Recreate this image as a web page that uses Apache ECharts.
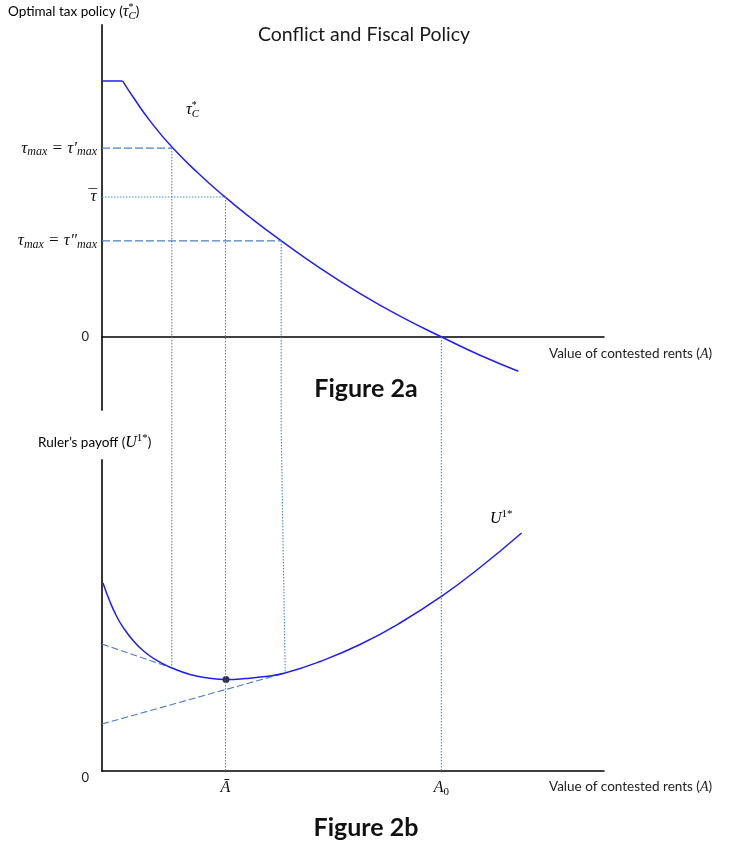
<!DOCTYPE html>
<html>
<head>
<meta charset="utf-8">
<script src="https://cdn.jsdelivr.net/npm/echarts@6/dist/echarts.min.js"></script>
<style>
  html, body { margin: 0; padding: 0; background: #fff; }
  #chart { width: 730px; height: 843px; }
</style>
</head>
<body>
<div id="chart"></div>
<script>
// x = value of contested rents, on a 0-10 scale
const taxFlatX = [0, 0.412];
const taxFlatY = [0.996, 0.996];
const taxX = [0.412, 0.657, 0.956, 1.388, 1.912, 2.43, 2.948, 3.566, 4.343, 5.159, 5.936, 6.767, 7.53, 8.293];
const taxY = [0.996, 0.923, 0.841, 0.74, 0.638, 0.548, 0.466, 0.375, 0.268, 0.167, 0.081, 0.0, -0.071, -0.133];
const payoffX = [0.02, 0.159, 0.293, 0.424, 0.624, 0.823, 1.09, 1.394, 1.753, 2.112, 2.47, 2.849, 3.247, 3.645, 4.343, 5.139, 5.936, 6.763, 7.53, 8.357];
const payoffY = [1.88, 1.692, 1.545, 1.434, 1.302, 1.202, 1.106, 1.03, 0.965, 0.93, 0.915, 0.924, 0.945, 0.98, 1.095, 1.265, 1.48, 1.747, 2.035, 2.38];

// tax levels marked on the upper axis and the rents where the curve hits them
const tauLevels = [0.735, 0.545, 0.374];
const tauLabels = ['{t|τ}{s|max}{t| = τ′}{s|max}', '{t|τ}{o|¯}', '{t|τ}{s|max}{t| = τ″}{s|max}'];
const tauLineTypes = ['dashed', 'dotted', 'dashed'];
const rentMarks = [1.39, 2.46, 3.57];
// where the drops end on the payoff panel
const dropEndX = [1.39, 2.46, 3.65];
const dropEndU = [1.03, 0, 0.98];
const a0 = 6.76;
// level where the drop lines cross between the two panels
const gapTau = -0.362;
const gapU = 3.41;

const tangent1X = [0, 1.39];
const tangent1U = [1.269, 1.03];
const tangent2X = [0, 3.645];
const tangent2U = [0.47, 0.98];
const optimum = [2.47, 0.915];

const bottomTicks = [2.46, 6.76];
const bottomTickLabels = ['{m|Ā}', '{m|A}{n|0}'];

const pairs = (xs, ys) => xs.map((x, i) => [x, ys[i]]);

const chart = echarts.init(document.getElementById('chart'));

const mathFont = '"Liberation Serif", "DejaVu Serif", serif';
const textFont = 'Lato, "Open Sans", sans-serif';
const curveBlue = '#1f1ff5';
const dashBlue = '#4f7fbf';
const dotBlue = '#4a8ad0';

const ink = '#111';
const mathRich = {
  t: { fontFamily: mathFont, fontStyle: 'italic', fontSize: 17, lineHeight: 20, color: ink },
  s: { fontFamily: mathFont, fontStyle: 'italic', fontSize: 12, lineHeight: 12, verticalAlign: 'bottom', color: ink },
  o: { fontFamily: mathFont, fontSize: 17, lineHeight: 20, padding: [0, 0, 0, -8], color: ink },
  m: { fontFamily: mathFont, fontStyle: 'italic', fontSize: 16, lineHeight: 20, color: ink },
  n: { fontFamily: mathFont, fontSize: 11, lineHeight: 11, verticalAlign: 'bottom', color: ink },
  p: { fontFamily: mathFont, fontSize: 10, lineHeight: 10, verticalAlign: 'top', color: ink },
  b: { fontFamily: mathFont, fontStyle: 'italic', fontSize: 11, lineHeight: 11, verticalAlign: 'bottom', padding: [0, 0, 0, -5], color: ink },
  q: { fontFamily: mathFont, fontSize: 11, lineHeight: 11, verticalAlign: 'top', color: ink },
  a: { fontFamily: textFont, fontSize: 13.5, lineHeight: 20, color: '#222' },
  z: { fontFamily: textFont, fontSize: 13, color: '#222', padding: [0, 8, 0, 0] }
};

const guide = (data, type, color, grid) => ({
  type: 'line',
  xAxisIndex: grid,
  yAxisIndex: grid,
  data,
  symbol: 'none',
  silent: true,
  clip: false,
  lineStyle: { color, width: 1.1, type }
});

const series = [];
// upper panel: optimal tax curve
series.push({
  type: 'line', xAxisIndex: 0, yAxisIndex: 0, symbol: 'none', silent: true,
  data: pairs(taxFlatX, taxFlatY), lineStyle: { color: curveBlue, width: 1.5 }
});
series.push({
  type: 'line', xAxisIndex: 0, yAxisIndex: 0, symbol: 'none', silent: true, clip: false,
  smooth: 0.5, data: pairs(taxX, taxY), lineStyle: { color: curveBlue, width: 1.5 }
});
tauLevels.forEach((lvl, i) => {
  const dashed = tauLineTypes[i] === 'dashed';
  series.push(guide([[0, lvl], [rentMarks[i], lvl]], dashed ? [8, 3] : [1.5, 1.5], dashed ? dashBlue : dotBlue, 0));
  series.push(guide([[rentMarks[i], lvl], [rentMarks[i], gapTau]], [1.5, 1.5], dotBlue, 0));
  series.push(guide([[rentMarks[i], gapU], [dropEndX[i], dropEndU[i]]], [1.5, 1.5], dotBlue, 1));
});
series.push(guide([[a0, 0], [a0, gapTau]], [1.5, 1.5], dotBlue, 0));
series.push(guide([[a0, gapU], [a0, 0]], [1.5, 1.5], dotBlue, 1));

// lower panel: ruler's payoff
series.push(guide(pairs(tangent1X, tangent1U), [7, 3], dashBlue, 1));
series.push(guide(pairs(tangent2X, tangent2U), [7, 3], dashBlue, 1));
series.push({
  type: 'line', xAxisIndex: 1, yAxisIndex: 1, symbol: 'none', silent: true,
  smooth: 0.5, data: pairs(payoffX, payoffY), lineStyle: { color: curveBlue, width: 1.5 }
});
series.push({
  type: 'scatter', xAxisIndex: 1, yAxisIndex: 1, silent: true,
  symbolSize: 7, itemStyle: { color: '#000' }, data: [optimum]
});

const xName = 'Value of contested rents ({i|A})';
const xNameStyle = (pad) => ({
  fontFamily: textFont, fontSize: 13.5, color: '#222', align: 'left', verticalAlign: 'top',
  padding: [pad, 0, 0, 0],
  rich: { i: { fontFamily: mathFont, fontStyle: 'italic', fontSize: 14, color: '#222' } }
});

chart.setOption({
  animation: false,
  backgroundColor: '#fff',
  grid: [
    { left: 102, top: 25, width: 502, height: 385 },
    { left: 102, top: 460, width: 502, height: 311 }
  ],
  xAxis: [
    {
      gridIndex: 0, type: 'value', min: 0, max: 10,
      axisLine: { onZero: true, lineStyle: { color: '#000', width: 1.5 } },
      axisTick: { show: false }, axisLabel: { show: false }, splitLine: { show: false },
      name: xName, nameLocation: 'end', nameGap: -55, nameTextStyle: xNameStyle(10)
    },
    {
      gridIndex: 1, type: 'value', min: 0, max: 10,
      axisLine: { lineStyle: { color: '#000', width: 1.5 } },
      axisTick: { show: false }, splitLine: { show: false },
      axisLabel: {
        customValues: bottomTicks, margin: 7, rich: mathRich,
        formatter: v => bottomTickLabels[bottomTicks.indexOf(v)]
      },
      name: xName, nameLocation: 'end', nameGap: -55, nameTextStyle: xNameStyle(9)
    }
  ],
  yAxis: [
    {
      gridIndex: 0, type: 'value', min: -0.284, max: 1.214,
      axisLine: { show: true, onZero: false, lineStyle: { color: '#222', width: 1.8 } },
      axisTick: { show: false }, splitLine: { show: false },
      axisLabel: {
        customValues: [0].concat(tauLevels), margin: 5, rich: mathRich,
        formatter: v => v === 0 ? '{z|0}' : tauLabels[tauLevels.indexOf(v)]
      }
    },
    {
      gridIndex: 1, type: 'value', min: 0, max: 3.11,
      axisLine: { show: true, onZero: false, lineStyle: { color: '#222', width: 1.8 } },
      axisTick: { show: false }, splitLine: { show: false },
      axisLabel: {
        customValues: [0], margin: 5, verticalAlign: 'top', rich: mathRich,
        formatter: () => '{z|0}'
      }
    }
  ],
  graphic: [
    { type: 'text', x: 364, y: 35, silent: true,
      style: { text: 'Conflict and Fiscal Policy', font: '19.5px ' + textFont, fill: '#1a1a1a', align: 'center', verticalAlign: 'middle' } },
    { type: 'text', x: 366, y: 389, silent: true,
      style: { text: 'Figure 2a', font: 'bold 25px ' + textFont, fill: '#111', align: 'center', verticalAlign: 'middle' } },
    { type: 'text', x: 366, y: 828, silent: true,
      style: { text: 'Figure 2b', font: 'bold 25px ' + textFont, fill: '#111', align: 'center', verticalAlign: 'middle' } },
    { type: 'text', x: 8, y: 12, silent: true,
      style: { text: '{a|Optimal tax policy (}{m|τ}{p|*}{b|C}{a|)}', rich: mathRich, align: 'left', verticalAlign: 'middle' } },
    { type: 'text', x: 38, y: 443, silent: true,
      style: { text: '{a|Ruler’s payoff (}{m|U}{q|1*}{a|)}', rich: mathRich, align: 'left', verticalAlign: 'middle' } },
    { type: 'text', x: 186, y: 110, silent: true,
      style: { text: '{m|τ}{p|*}{b|C}', rich: mathRich, align: 'left', verticalAlign: 'middle' } },
    { type: 'text', x: 490, y: 519, silent: true,
      style: { text: '{m|U}{q|1*}', rich: mathRich, align: 'left', verticalAlign: 'middle' } }
  ],
  series
});
</script>
</body>
</html>
